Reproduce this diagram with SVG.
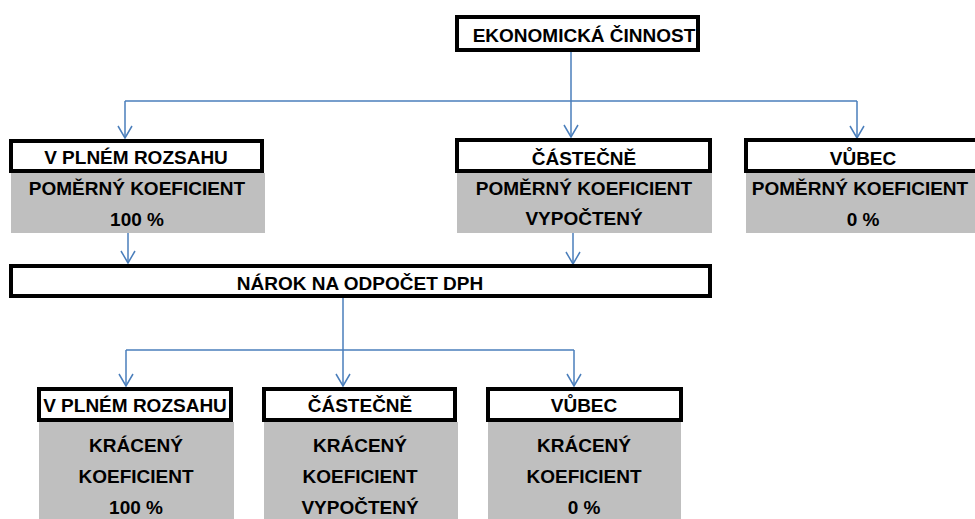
<svg xmlns="http://www.w3.org/2000/svg" width="975" height="519" viewBox="0 0 975 519">
<defs>
<marker id="arr" viewBox="-14 -9 16 18" markerWidth="16" markerHeight="18" refX="0" refY="0" orient="auto" markerUnits="userSpaceOnUse">
<path d="M-12,-7 L0,0 L-12,7" fill="none" stroke="#4A7EBB" stroke-width="1.5"/>
</marker>
</defs>
<style>
.box{fill:#fff;stroke:#000;stroke-width:4}
.gray{fill:#BFBFBF;stroke:none}
text{font-family:"Liberation Sans",Arial,sans-serif;font-weight:bold;font-size:19px;fill:#000;text-anchor:middle}
.c{fill:none;stroke:#4A7EBB;stroke-width:1.5}
</style>
<rect width="975" height="519" fill="#fff"/>
<g id="connectors">
<path class="c" d="M571,52 V137" marker-end="url(#arr)"/>
<path class="c" d="M125,101 H857"/>
<path class="c" d="M125,101 V138" marker-end="url(#arr)"/>
<path class="c" d="M857,101 V138" marker-end="url(#arr)"/>
<path class="c" d="M128,233 V263" marker-end="url(#arr)"/>
<path class="c" d="M573,233 V264" marker-end="url(#arr)"/>
<path class="c" d="M343,298 V350"/>
<path class="c" d="M126,350 H574"/>
<path class="c" d="M126,350 V386" marker-end="url(#arr)"/>
<path class="c" d="M343,350 V386" marker-end="url(#arr)"/>
<path class="c" d="M574,350 V386" marker-end="url(#arr)"/>
</g>
<g id="ekonomicka">
<rect class="box" x="457" y="17" width="241" height="33"/>
<text x="584" y="42">EKONOMICKÁ ČINNOST</text>
</g>
<g id="top-plny">
<rect class="gray" x="11" y="173" width="254" height="60"/>
<rect class="box" x="11" y="141" width="251" height="30"/>
<text x="136" y="164">V PLNÉM ROZSAHU</text>
<text x="137" y="195">POMĚRNÝ KOEFICIENT</text>
<text x="137" y="226">100 %</text>
</g>
<g id="top-castecne">
<rect class="gray" x="457" y="173" width="255" height="60"/>
<rect class="box" x="457" y="140" width="253" height="31"/>
<text x="584" y="165">ČÁSTEČNĚ</text>
<text x="584" y="195">POMĚRNÝ KOEFICIENT</text>
<text x="584" y="225">VYPOČTENÝ</text>
</g>
<g id="top-vubec">
<rect class="gray" x="746" y="173" width="240" height="60"/>
<rect class="box" x="746" y="140" width="236" height="31"/>
<text x="863" y="165">VŮBEC</text>
<text x="860" y="195">POMĚRNÝ KOEFICIENT</text>
<text x="863" y="226">0 %</text>
</g>
<g id="narok">
<rect class="box" x="11" y="266" width="699" height="30"/>
<text x="360" y="290">NÁROK NA ODPOČET DPH</text>
</g>
<g id="bottom-plny">
<rect class="gray" x="39" y="422" width="195" height="97"/>
<rect class="box" x="39" y="389" width="192" height="31"/>
<text x="135" y="412">V PLNÉM ROZSAHU</text>
<text x="136" y="452">KRÁCENÝ</text>
<text x="136" y="483">KOEFICIENT</text>
<text x="136" y="514">100 %</text>
</g>
<g id="bottom-castecne">
<rect class="gray" x="264" y="422" width="194" height="97"/>
<rect class="box" x="264" y="389" width="191" height="31"/>
<text x="360" y="412">ČÁSTEČNĚ</text>
<text x="360" y="452">KRÁCENÝ</text>
<text x="360" y="483">KOEFICIENT</text>
<text x="360" y="514">VYPOČTENÝ</text>
</g>
<g id="bottom-vubec">
<rect class="gray" x="488" y="422" width="193" height="97"/>
<rect class="box" x="488" y="389" width="193" height="31"/>
<text x="584" y="412">VŮBEC</text>
<text x="584" y="452">KRÁCENÝ</text>
<text x="584" y="483">KOEFICIENT</text>
<text x="584" y="514">0 %</text>
</g>
</svg>
